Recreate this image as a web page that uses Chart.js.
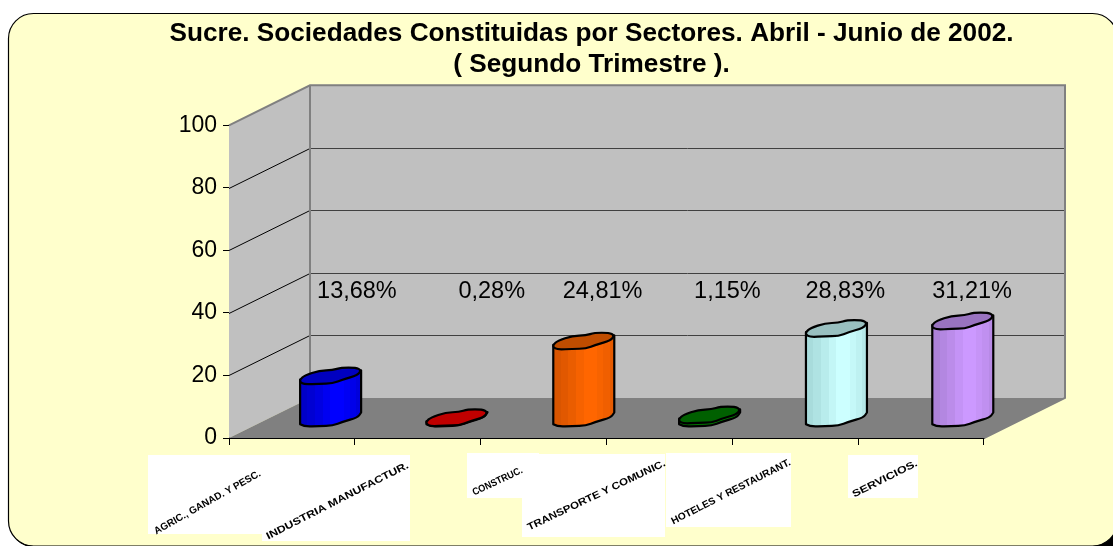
<!DOCTYPE html>
<html><head><meta charset="utf-8">
<style>html,body{margin:0;padding:0;background:#fff;overflow:hidden}canvas{display:block}</style>
<script src="https://cdn.jsdelivr.net/npm/chart.js@4/dist/chart.umd.min.js"></script>
</head><body><canvas id="c" width="1113" height="546"></canvas>
<script>
const titleLines = ['Sucre. Sociedades Constituidas por Sectores. Abril - Junio de 2002.', '( Segundo Trimestre ).'];
const categories = ['AGRIC., GANAD. Y PESC.', 'INDUSTRIA MANUFACTUR.', 'CONSTRUC.', 'TRANSPORTE Y COMUNIC.', 'HOTELES Y RESTAURANT.', 'SERVICIOS.'];
const shares = [13.68, 0.28, 24.81, 1.15, 28.83, 31.21];
const yTicks = [0, 20, 40, 60, 80, 100];
const sideColors = ['#0000FF', '#FF0000', '#FF6600', '#008000', '#CCFFFF', '#CC99FF'];
const topColors = ['#0000C0', '#C00000', '#C04D00', '#006000', '#99C0C0', '#9973C0'];
const shadeColors = ['#0000C8', '#C80000', '#D95500', '#006C00', '#A8DCDC', '#AD82D9'];

// layout only (not data)
const DEPTH = {x: 81, y: -40};
const cylDx = [38.5, 39, 40, 40, 41, 41.5];
const cylDy = -19;
const labelDx = [65, 74, 59, 58, 50, 51];
const labelValueY = 47;
const tickBoxes = [[148,455,114,79],[262,455,148,86],[467,453,72,45],[522,454,143,83],[666,453,125,74],[848,455,70,43]];
const tickLines = [[155,532,260,473],[267,537,408,465],[473,493,522,470],[528,528,665,463],[672,522,790,462],[853,495,917,463]];
const ring = [[-30.3,3.3],[-26,-0.7],[-11,-5.7],[2.3,-6],[10.7,-8.7],[25.7,-8.7],[30.7,-6],[27.3,-1],[12.3,3.3],[2.3,7.3],[-11,7.3],[-26,8.3],[-30.3,5.7]];
const lower = [[-30.3,5.7],[-26,8.3],[-11,7.3],[2.3,7.3],[12.3,3.3],[27.3,-1],[30.7,-6]];
const FONT = '"Liberation Sans", Arial, sans-serif';

function mix(a, b, t){
  const p = s => [1,3,5].map(i => parseInt(s.substr(i,2),16));
  const A = p(a), B = p(b);
  return 'rgb(' + A.map((v,i) => Math.round(v + (B[i]-v)*t)).join(',') + ')';
}
// open smooth curve through the given points (midpoint quadratic)
function smooth(c, pts){
  for (let i = 1; i < pts.length-1; i++){
    const mx = (pts[i][0]+pts[i+1][0])/2, my = (pts[i][1]+pts[i+1][1])/2;
    c.quadraticCurveTo(pts[i][0], pts[i][1], mx, my);
  }
  const e = pts[pts.length-1];
  c.lineTo(e[0], e[1]);
}

const scene = {
  id: 'scene',
  beforeDraw(chart){
    const c = chart.ctx;
    c.save();
    c.fillStyle = '#fff'; c.fillRect(0,0,chart.width,chart.height);
    c.fillStyle = '#000'; c.fillRect(1090,530,23,16);
    c.beginPath(); c.roundRect(9.5,14.5,1109,533,25); c.fillStyle='#000'; c.fill();
    c.beginPath(); c.roundRect(8.5,13.5,1109,532.5,25);
    c.fillStyle = '#FFFFCC'; c.fill();
    c.lineWidth = 1.2; c.strokeStyle = '#000'; c.stroke();
    tickBoxes.forEach(b => { c.fillStyle = '#fff'; c.fillRect(b[0],b[1],b[2],b[3]); });
    c.restore();
  },
  beforeDatasetsDraw(chart){
    const c = chart.ctx, a = chart.chartArea, y = chart.scales.y;
    const dx = DEPTH.x, dy = DEPTH.y;
    c.save();
    c.fillStyle = '#C0C0C0';
    c.fillRect(a.left+dx, a.top+dy, a.right-a.left, a.bottom-a.top);
    c.beginPath(); c.moveTo(a.left,a.top); c.lineTo(a.left+dx,a.top+dy); c.lineTo(a.left+dx,a.bottom+dy); c.lineTo(a.left,a.bottom); c.closePath(); c.fill();
    c.fillStyle = '#808080';
    c.beginPath(); c.moveTo(a.left,a.bottom); c.lineTo(a.left+dx,a.bottom+dy); c.lineTo(a.right+dx,a.bottom+dy); c.lineTo(a.right,a.bottom); c.closePath(); c.fill();
    yTicks.forEach(t => {
      const p = Math.round(y.getPixelForValue(t)) + .5;
      if (t > 0 && t < 100){
        c.strokeStyle = '#404040'; c.lineWidth = 1;
        c.beginPath(); c.moveTo(a.left+dx, p+dy); c.lineTo(a.right+dx, p+dy); c.stroke();
        c.strokeStyle = '#000';
        c.beginPath(); c.moveTo(a.left, p); c.lineTo(a.left+dx, p+dy); c.stroke();
      }
    });
    c.strokeStyle = '#808080'; c.lineWidth = 2;
    c.beginPath();
    c.moveTo(a.left,a.top); c.lineTo(a.left+dx,a.top+dy); c.lineTo(a.right+dx,a.top+dy); c.lineTo(a.right+dx,a.bottom+dy); c.lineTo(a.right,a.bottom);
    c.moveTo(a.left+dx,a.top+dy); c.lineTo(a.left+dx,a.bottom+dy);
    c.stroke();
    c.restore();
  },
  beforeDatasetDraw(chart, args){
    const c = chart.ctx, els = chart.getDatasetMeta(args.index).data;
    els.forEach((el, i) => {
      const cx = el.x + cylDx[i], topY = el.y + cylDy, baseY = el.base + cylDy;
      const g = c.createLinearGradient(cx-31, 0, cx+31, 0);
      const side = sideColors[i], sh = shadeColors[i];
      const bands = [[0,1],[.13,.8],[.25,.55],[.38,.25],[.5,0],[.72,.2],[.82,.4],[.92,.65]];
      bands.forEach((b, k) => {
        const col = mix(side, sh, b[1]);
        g.addColorStop(b[0], col);
        g.addColorStop(k < bands.length-1 ? bands[k+1][0] : 1, col);
      });
      c.save();
      c.lineJoin = 'round'; c.lineWidth = 2.2; c.strokeStyle = '#000';
      c.beginPath();
      c.moveTo(cx+ring[0][0], topY+ring[0][1]);
      c.lineTo(cx+lower[0][0], baseY+lower[0][1]);
      smooth(c, lower.map(p => [cx+p[0], baseY+p[1]]));
      c.lineTo(cx+30.7, topY-6);
      c.closePath();
      c.fillStyle = g; c.fill(); c.stroke();
      c.beginPath();
      const pts = ring.map(p => [cx+p[0], topY+p[1]]);
      const n = pts.length;
      c.moveTo((pts[n-1][0]+pts[0][0])/2, (pts[n-1][1]+pts[0][1])/2);
      for (let k = 0; k < n; k++){
        const q = pts[(k+1)%n];
        c.quadraticCurveTo(pts[k][0], pts[k][1], (pts[k][0]+q[0])/2, (pts[k][1]+q[1])/2);
      }
      c.closePath();
      c.fillStyle = topColors[i]; c.fill(); c.stroke();
      c.restore();
    });
    return false;
  },
  afterDatasetsDraw(chart){
    const c = chart.ctx, y = chart.scales.y, x = chart.scales.x;
    c.save();
    c.fillStyle = '#000'; c.font = '23.5px ' + FONT; c.textAlign = 'center'; c.textBaseline = 'middle';
    shares.forEach((v, i) => {
      c.fillText(v.toFixed(2).replace('.', ',') + '%', x.getPixelForValue(i) + labelDx[i], y.getPixelForValue(labelValueY));
    });
    categories.forEach((t, i) => {
      const l = tickLines[i], len = Math.hypot(l[2]-l[0], l[3]-l[1]);
      c.save();
      c.font = 'bold 10px ' + FONT; c.textAlign = 'left'; c.textBaseline = 'middle';
      c.translate(l[0], l[1]);
      c.rotate(Math.atan2(l[3]-l[1], l[2]-l[0]));
      c.scale(len / c.measureText(t).width, 1);
      c.fillText(t, 0, 0);
      c.restore();
    });
    c.restore();
  }
};

new Chart(document.getElementById('c'), {
  type: 'bar',
  data: { labels: categories, datasets: [{ data: shares, backgroundColor: sideColors, categoryPercentage: 1, barPercentage: .48 }] },
  plugins: [scene],
  options: {
    responsive: false, animation: false, devicePixelRatio: 1,
    layout: { autoPadding: false, padding: { left: 70, right: 0, top: 18, bottom: 108 } },
    plugins: {
      legend: { display: false }, tooltip: { enabled: false },
      title: { display: true, text: titleLines, color: '#000', padding: { top: 0, bottom: 45 },
        font: { family: FONT, size: 26.2, weight: 'bold', lineHeight: 1.19 } }
    },
    scales: {
      x: { afterFit(s){ s.height = 0; }, ticks: { display: false },
        grid: { offset: true, drawOnChartArea: false, drawTicks: true, tickLength: 7, color: '#000' },
        border: { display: true, color: '#000' } },
      y: { min: 0, max: 100, afterFit(s){ s.width = 159; },
        ticks: { stepSize: 20, color: '#000', padding: 6, font: { family: FONT, size: 23 } },
        grid: { drawOnChartArea: false, drawTicks: true, tickLength: 6, color: '#000' },
        border: { display: true, color: '#000' } },
      spacer: { position: 'right', min: 0, max: 100, afterFit(s){ s.width = 129; },
        ticks: { display: false }, grid: { display: false }, border: { display: false } }
    }
  }
});
</script></body></html>
